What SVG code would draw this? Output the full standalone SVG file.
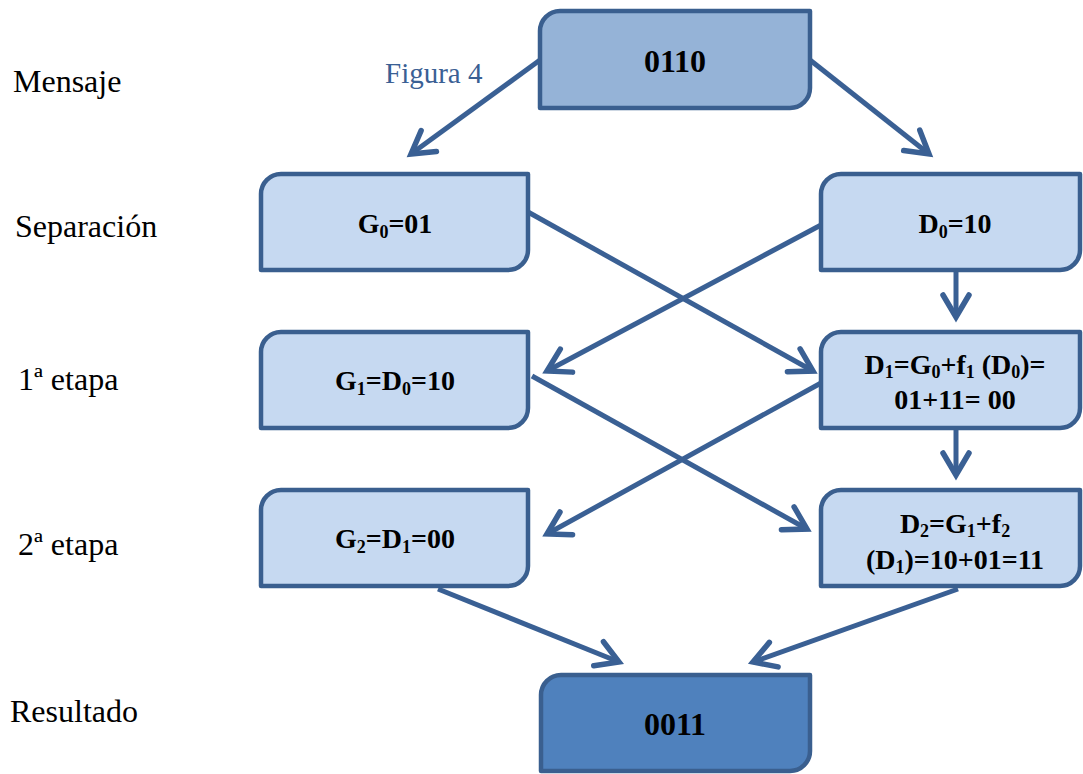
<svg xmlns="http://www.w3.org/2000/svg" width="1083" height="774" viewBox="0 0 1083 774">
  <style>
    .box { stroke: #3A5F8F; stroke-width: 4.5; stroke-linejoin: round; }
    .lvl1 { fill: #95B3D7; }
    .lvl2 { fill: #C6D9F1; }
    .lvl3 { fill: #4F81BD; }
    .conn { fill: none; stroke: #3A6094; stroke-width: 5; marker-end: url(#chev); }
    text { font-family: 'Liberation Serif', 'DejaVu Serif', serif; }
    .side { font-size: 32px; fill: #000; }
    .cap { font-size: 29px; fill: #3A6094; }
    .big { font-weight: bold; font-size: 32px; fill: #000; text-anchor: middle; }
    .lbl { font-weight: bold; font-size: 28px; fill: #000; text-anchor: middle; }
    .sub { font-size: 18px; }
  </style>
  <defs>
    <marker id="chev" markerUnits="userSpaceOnUse" markerWidth="40" markerHeight="40" viewBox="-30 -20 40 40" refX="0" refY="0" orient="auto" overflow="visible">
      <path d="M -22 -13 L 0 0 L -22 13" fill="none" stroke="#3A6094" stroke-width="5.5" stroke-linecap="round" stroke-linejoin="miter"/>
    </marker>
  </defs>

  <!-- row labels -->
  <g id="labels">
    <text class="side" x="13" y="92">Mensaje</text>
    <text class="side" x="15" y="237">Separación</text>
    <text class="side" x="18" y="390">1ª etapa</text>
    <text class="side" x="18" y="555">2ª etapa</text>
    <text class="side" x="10" y="722">Resultado</text>
    <text class="cap" x="385" y="83">Figura 4</text>
  </g>

  <!-- connectors -->
  <g id="connectors">
    <path class="conn" d="M 540 60 L 411 154"/>
    <path class="conn" d="M 810 60 L 929 154"/>
    <path class="conn" d="M 528 212 L 813 371"/>
    <path class="conn" d="M 821 225 L 547 371"/>
    <path class="conn" d="M 956 270 L 956 317"/>
    <path class="conn" d="M 532 376 L 807 529"/>
    <path class="conn" d="M 821 383 L 547 534"/>
    <path class="conn" d="M 956 428 L 956 475"/>
    <path class="conn" d="M 438 589 L 619 662"/>
    <path class="conn" d="M 958 589 L 753 662"/>
  </g>

  <!-- message -->
  <g id="msg">
    <path class="box lvl1" d="M 560 11 H 810 V 88 A 20 20 0 0 1 790 108 H 540 V 31 A 20 20 0 0 1 560 11 Z"/>
    <text class="big" x="675" y="72">0110</text>
  </g>

  <!-- separation -->
  <g id="g0">
    <path class="box lvl2" d="M 281 174 H 528 V 250 A 20 20 0 0 1 508 270 H 261 V 194 A 20 20 0 0 1 281 174 Z"/>
    <text class="lbl" x="395" y="233">G<tspan class="sub" dy="5">0</tspan><tspan dy="-5">=01</tspan></text>
  </g>
  <g id="d0">
    <path class="box lvl2" d="M 841 174 H 1080 V 250 A 20 20 0 0 1 1060 270 H 821 V 194 A 20 20 0 0 1 841 174 Z"/>
    <text class="lbl" x="955" y="233">D<tspan class="sub" dy="5">0</tspan><tspan dy="-5">=10</tspan></text>
  </g>

  <!-- round 1 -->
  <g id="g1">
    <path class="box lvl2" d="M 281 332 H 528 V 408 A 20 20 0 0 1 508 428 H 261 V 352 A 20 20 0 0 1 281 332 Z"/>
    <text class="lbl" x="395" y="390">G<tspan class="sub" dy="5">1</tspan><tspan dy="-5">=D</tspan><tspan class="sub" dy="5">0</tspan><tspan dy="-5">=10</tspan></text>
  </g>
  <g id="d1">
    <path class="box lvl2" d="M 841 332 H 1080 V 408 A 20 20 0 0 1 1060 428 H 821 V 352 A 20 20 0 0 1 841 332 Z"/>
    <text class="lbl" x="955" y="374">D<tspan class="sub" dy="4">1</tspan><tspan dy="-4">=G</tspan><tspan class="sub" dy="4">0</tspan><tspan dy="-4">+f</tspan><tspan class="sub" dy="4">1</tspan><tspan dy="-4"> (D</tspan><tspan class="sub" dy="4">0</tspan><tspan dy="-4">)=</tspan></text>
    <text class="lbl" x="955" y="409">01+11= 00</text>
  </g>

  <!-- round 2 -->
  <g id="g2">
    <path class="box lvl2" d="M 281 490 H 528 V 566 A 20 20 0 0 1 508 586 H 261 V 510 A 20 20 0 0 1 281 490 Z"/>
    <text class="lbl" x="395" y="548">G<tspan class="sub" dy="5">2</tspan><tspan dy="-5">=D</tspan><tspan class="sub" dy="5">1</tspan><tspan dy="-5">=00</tspan></text>
  </g>
  <g id="d2">
    <path class="box lvl2" d="M 841 490 H 1080 V 566 A 20 20 0 0 1 1060 586 H 821 V 510 A 20 20 0 0 1 841 490 Z"/>
    <text class="lbl" x="955" y="533">D<tspan class="sub" dy="4">2</tspan><tspan dy="-4">=G</tspan><tspan class="sub" dy="4">1</tspan><tspan dy="-4">+f</tspan><tspan class="sub" dy="4">2</tspan></text>
    <text class="lbl" x="955" y="569">(D<tspan class="sub" dy="4">1</tspan><tspan dy="-4">)=10+01=11</tspan></text>
  </g>

  <!-- result -->
  <g id="res">
    <path class="box lvl3" d="M 561 675 H 810 V 751 A 20 20 0 0 1 790 771 H 541 V 695 A 20 20 0 0 1 561 675 Z"/>
    <text class="big" x="675" y="735">0011</text>
  </g>
</svg>
